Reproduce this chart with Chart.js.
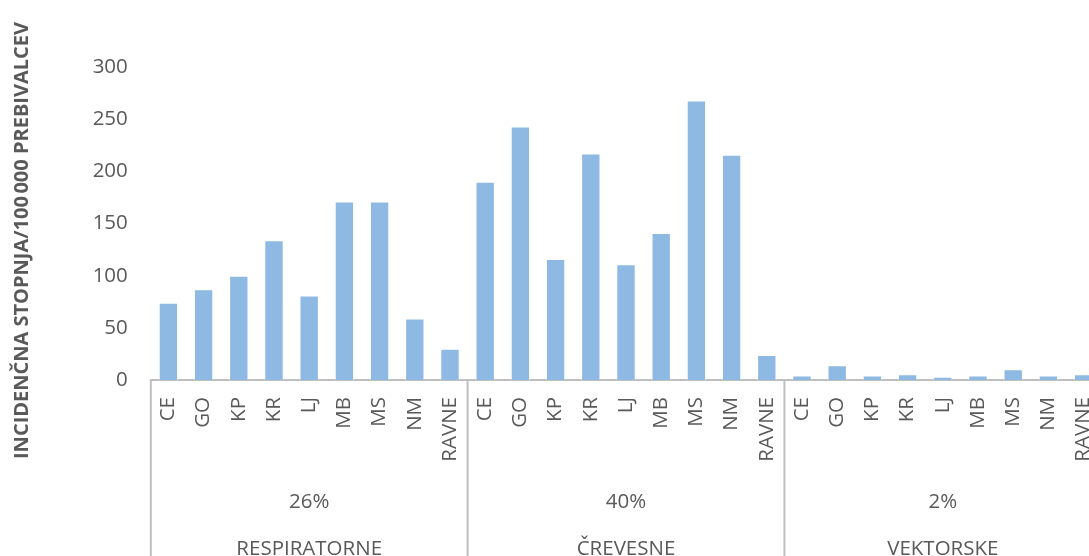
<!DOCTYPE html>
<html>
<head>
<meta charset="utf-8">
<script src="https://cdn.jsdelivr.net/npm/chart.js@4"></script>
<style>
  html, body { margin: 0; padding: 0; background: #ffffff; overflow: hidden; }
  #frame { width: 1089px; height: 556px; overflow: hidden; position: relative; }
  canvas { display: block; }
</style>
</head>
<body>
<div id="frame"><canvas id="c" width="1130" height="556"></canvas></div>
<script>
// Regions (repeated inside every disease group)
const regions = ['CE', 'GO', 'KP', 'KR', 'LJ', 'MB', 'MS', 'NM', 'RAVNE'];
// Disease groups and their share of all cases
const groups = ['RESPIRATORNE', 'ČREVESNE', 'VEKTORSKE'];
const shares = ['26%', '40%', '2%'];
// Incidence per 100 000 inhabitants, by region
const respiratorne = [74, 87, 100, 134, 81, 171, 171, 59, 30];
const crevesne = [190, 243, 116, 217, 111, 141, 268, 216, 24];
const vektorske = [4.3, 14.2, 4.3, 5.6, 3.1, 4.3, 10.4, 4.3, 5.6];
// Value axis
const yTicks = [0, 50, 100, 150, 200, 250, 300];
const yTitle = 'INCIDENČNA STOPNJA/100\u202F000 PREBIVALCEV';

const labels = [];
groups.forEach(() => regions.forEach(r => labels.push(r)));
const values = [].concat(respiratorne, crevesne, vektorske);

const FONT = "'Open Sans', 'DejaVu Sans', sans-serif";
const TEXT = '#595959';
const LINE = '#BFBFBF';

// Second and third level of the category axis: group separators, shares and names
const groupAxis = {
  id: 'groupAxis',
  afterDraw(chart) {
    const { ctx, chartArea, scales: { x } } = chart;
    const n = regions.length;
    const step = x.getPixelForValue(1) - x.getPixelForValue(0);
    ctx.save();
    ctx.strokeStyle = LINE;
    ctx.lineWidth = 2;
    ctx.fillStyle = TEXT;
    ctx.font = '20.5px ' + FONT;
    ctx.textAlign = 'center';
    ctx.textBaseline = 'alphabetic';
    groups.forEach((g, i) => {
      const left = x.getPixelForValue(i * n) - step / 2;
      const right = x.getPixelForValue(i * n + n - 1) + step / 2;
      const edges = i === groups.length - 1 ? [left, right] : [left];
      edges.forEach(px => {
        ctx.beginPath();
        ctx.moveTo(px, chartArea.bottom);
        ctx.lineTo(px, chart.height);
        ctx.stroke();
      });
      const mid = (left + right) / 2;
      ctx.fillText(shares[i], mid, chartArea.bottom + 128);
      ctx.fillText(g, mid, chartArea.bottom + 175);
    });
    ctx.restore();
  }
};

// Rotated value-axis title
const valueTitle = {
  id: 'valueTitle',
  afterDraw(chart) {
    const { ctx, chartArea } = chart;
    ctx.save();
    ctx.translate(28, chartArea.bottom - 139.5);
    ctx.rotate(-Math.PI / 2);
    ctx.fillStyle = TEXT;
    ctx.font = 'bold 20px ' + FONT;
    ctx.textAlign = 'center';
    ctx.textBaseline = 'alphabetic';
    ctx.fillText(yTitle, 0, 0);
    ctx.restore();
  }
};

new Chart(document.getElementById('c'), {
  type: 'bar',
  data: {
    labels: labels,
    datasets: [{
      data: values,
      backgroundColor: '#8DB9E2',
      borderColor: 'rgba(255,255,255,0.55)',
      borderWidth: 1,
      categoryPercentage: 1,
      barPercentage: 0.55
    }]
  },
  options: {
    responsive: false,
    animation: false,
    devicePixelRatio: 1,
    layout: { padding: { top: 67, right: 28.8, bottom: 0, left: 0 } },
    plugins: { legend: { display: false }, tooltip: { enabled: false }, title: { display: false } },
    scales: {
      x: {
        grid: { display: false, drawTicks: false },
        border: { display: true, color: LINE, width: 2 },
        ticks: {
          autoSkip: false,
          minRotation: 90,
          maxRotation: 90,
          padding: 17,
          color: TEXT,
          font: { family: FONT, size: 20.5 }
        },
        afterFit(scale) { scale.height = 176; }
      },
      y: {
        min: 0,
        max: 300,
        grid: { display: false, drawTicks: false },
        border: { display: false },
        afterBuildTicks(scale) { scale.ticks = yTicks.map(v => ({ value: v })); },
        ticks: {
          padding: 23,
          color: TEXT,
          font: { family: FONT, size: 20.5 }
        },
        afterFit(scale) { scale.width = 150.8; }
      }
    }
  },
  plugins: [groupAxis, valueTitle]
});
</script>
</body>
</html>
